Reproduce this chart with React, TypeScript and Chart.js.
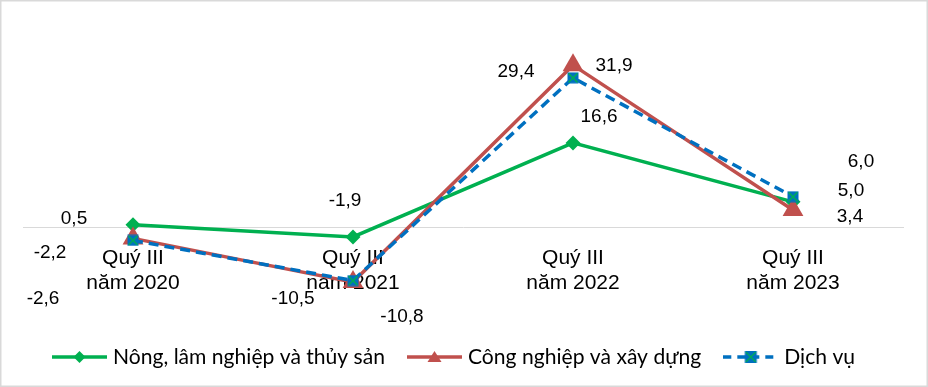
import React, { useEffect, useRef } from 'react';
import { Chart, registerables } from 'chart.js';

Chart.register(...registerables);

const categories = [
  ['Quý III', 'năm 2020'],
  ['Quý III', 'năm 2021'],
  ['Quý III', 'năm 2022'],
  ['Quý III', 'năm 2023'],
];
const seriesNames = ['Nông, lâm nghiệp và thủy sản', 'Công nghiệp và xây dựng', 'Dịch vụ'];
const agriculture = [0.5, -1.9, 16.6, 5.0];
const industry = [-2.2, -10.8, 31.9, 3.4];
const services = [-2.6, -10.5, 29.4, 6.0];

const GREEN = '#00B050';
const RED = '#C0504D';
const BLUE = '#0070C0';

// label placement offsets (styling only), per series per point
const labelOffsets = [
  [[-59, -6], [-8, -36], [26, -26], [58, -11]],
  [[-83, 14], [49, 35], [41, 1], [57, 7]],
  [[-90, 58], [-60, 18], [-57, -6], [68, -35]],
];

function makeSquareMarker(): HTMLCanvasElement {
  const c = document.createElement('canvas');
  c.width = 12;
  c.height = 12;
  const ctx = c.getContext('2d')!;
  ctx.fillStyle = BLUE;
  ctx.fillRect(0.5, 0.5, 11, 11);
  ctx.strokeStyle = GREEN;
  ctx.lineWidth = 1.5;
  ctx.beginPath();
  ctx.moveTo(1.5, 1.5);
  ctx.lineTo(10.5, 10.5);
  ctx.moveTo(10.5, 1.5);
  ctx.lineTo(1.5, 10.5);
  ctx.stroke();
  return c;
}

const LEG_W = 55;
function makeLegendImage(kind: number): HTMLCanvasElement {
  const c = document.createElement('canvas');
  c.width = LEG_W;
  c.height = 16;
  const ctx = c.getContext('2d')!;
  const cy = 8;
  const cx = LEG_W / 2;
  ctx.lineWidth = 3.5;
  if (kind === 0) {
    ctx.strokeStyle = GREEN;
    ctx.beginPath();
    ctx.moveTo(0, cy);
    ctx.lineTo(LEG_W, cy);
    ctx.stroke();
    ctx.fillStyle = GREEN;
    ctx.beginPath();
    ctx.moveTo(cx, cy - 6);
    ctx.lineTo(cx + 6, cy);
    ctx.lineTo(cx, cy + 6);
    ctx.lineTo(cx - 6, cy);
    ctx.closePath();
    ctx.fill();
  } else if (kind === 1) {
    ctx.strokeStyle = RED;
    ctx.beginPath();
    ctx.moveTo(0, cy);
    ctx.lineTo(LEG_W, cy);
    ctx.stroke();
    ctx.fillStyle = RED;
    ctx.beginPath();
    ctx.moveTo(cx, cy - 6);
    ctx.lineTo(cx + 7, cy + 5);
    ctx.lineTo(cx - 7, cy + 5);
    ctx.closePath();
    ctx.fill();
  } else {
    ctx.strokeStyle = BLUE;
    ctx.setLineDash([8, 6]);
    ctx.beginPath();
    ctx.moveTo(0, cy);
    ctx.lineTo(LEG_W, cy);
    ctx.stroke();
    ctx.setLineDash([]);
    ctx.fillStyle = BLUE;
    ctx.fillRect(cx - 6, cy - 6, 12, 12);
    ctx.strokeStyle = GREEN;
    ctx.lineWidth = 1.2;
    ctx.beginPath();
    ctx.moveTo(cx - 5, cy - 5);
    ctx.lineTo(cx + 5, cy + 5);
    ctx.moveTo(cx + 5, cy - 5);
    ctx.lineTo(cx - 5, cy + 5);
    ctx.stroke();
  }
  return c;
}

const fmt = (v: number) => v.toFixed(1).replace('.', ',');

export default function App() {
  const ref = useRef<HTMLCanvasElement>(null);

  useEffect(() => {
    document.body.style.margin = '0';
    const canvas = ref.current!;
    const squareMarker = makeSquareMarker();
    const legendImgs = [makeLegendImage(0), makeLegendImage(1), makeLegendImage(2)];

    const labelPlugin = {
      id: 'valueLabels',
      afterDatasetsDraw(chart: any) {
        const ctx = chart.ctx;
        ctx.save();
        ctx.font = '19px "Liberation Sans", Arial, sans-serif';
        ctx.fillStyle = '#000';
        ctx.textAlign = 'center';
        ctx.textBaseline = 'middle';
        chart.data.datasets.forEach((ds: any, i: number) => {
          const meta = chart.getDatasetMeta(i);
          meta.data.forEach((pt: any, j: number) => {
            const [dx, dy] = labelOffsets[i][j];
            ctx.fillText(fmt(ds.data[j]), pt.x + dx, pt.y + dy);
          });
        });
        ctx.restore();
      },
      afterDraw(chart: any) {
        const ctx = chart.ctx;
        ctx.save();
        // legend
        ctx.font = '21px Lato, "Liberation Sans", sans-serif';
        ctx.fillStyle = '#000';
        ctx.textBaseline = 'alphabetic';
        const w0 = ctx.measureText(chart.data.datasets[0].label).width;
        const sx = 272 / w0;
        let x = 52;
        const cy = 357;
        chart.data.datasets.forEach((ds: any, i: number) => {
          const img = legendImgs[i];
          ctx.drawImage(img, x, cy - img.height / 2);
          x += LEG_W + 6;
          const tw = ctx.measureText(ds.label).width * sx;
          ctx.save();
          ctx.translate(x, 364);
          ctx.scale(sx, 1);
          ctx.fillText(ds.label, 0, 0);
          ctx.restore();
          x += tw + 22;
        });
        // frame
        ctx.strokeStyle = '#d9d9d9';
        ctx.lineWidth = 1.5;
        ctx.strokeRect(0.75, 0.75, chart.width - 1.5, chart.height - 1.5);
        ctx.restore();
      },
    };

    const chart = new Chart(canvas, {
      type: 'line',
      data: {
        labels: categories,
        datasets: [
          {
            label: seriesNames[0],
            data: agriculture,
            borderColor: GREEN,
            backgroundColor: GREEN,
            borderWidth: 3.5,
            pointStyle: 'rectRot',
            pointRadius: 7.5,
            pointBorderWidth: 0,
            pointBackgroundColor: GREEN,
            order: 2,
          },
          {
            label: seriesNames[1],
            data: industry,
            borderColor: RED,
            backgroundColor: RED,
            borderWidth: 3.5,
            pointStyle: 'triangle',
            pointRadius: 12,
            pointBorderWidth: 0,
            pointBackgroundColor: RED,
            order: 1,
          },
          {
            label: seriesNames[2],
            data: services,
            borderColor: BLUE,
            backgroundColor: BLUE,
            borderWidth: 3.5,
            borderDash: [10, 6],
            pointStyle: squareMarker as any,
            pointRadius: 6,
            order: 0,
          },
        ],
      },
      options: {
        responsive: false,
        animation: false,
        layout: { padding: { top: 24, left: 23, right: 25, bottom: 48 } },
        plugins: {
          tooltip: { enabled: false },
          legend: { display: false },
        },
        scales: {
          x: {
            type: 'category',
            position: { y: 0 } as any,
            offset: true,
            grid: { display: false },
            border: { display: true, color: '#d9d9d9', width: 1 },
            ticks: {
              color: '#000',
              padding: 10,
              maxRotation: 0,
              autoSkip: false,
              font: { family: '"Liberation Sans", Arial, sans-serif', size: 21 },
            },
          },
          y: {
            display: false,
            min: -22,
            max: 40,
          },
        },
      },
      plugins: [labelPlugin],
    });
    return () => chart.destroy();
  }, []);

  return (
    <div style={{ width: 928, height: 387, background: '#fff' }}>
      <canvas ref={ref} width={928} height={387} />
    </div>
  );
}
